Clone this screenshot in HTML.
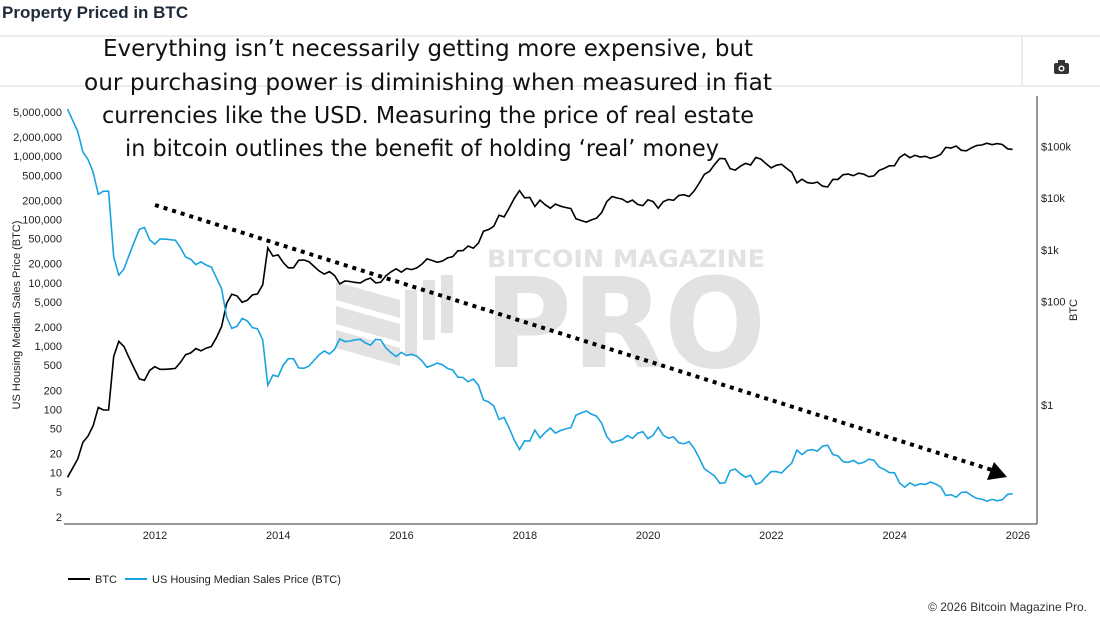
<!DOCTYPE html>
<html><head><meta charset="utf-8"><style>
body{margin:0;width:1100px;height:618px;background:#fff;overflow:hidden;font-family:"Liberation Sans",sans-serif;}
svg{position:absolute;left:0;top:0}
</style></head><body>
<svg width="1100" height="618" viewBox="0 0 1100 618" xmlns="http://www.w3.org/2000/svg">
<text x="2" y="18" font-size="17" font-weight="bold" fill="#1f2a3a">Property Priced in BTC</text>
<line x1="0" y1="36" x2="1100" y2="36" stroke="#e6e6e6" stroke-width="1.5"/>
<line x1="0" y1="86" x2="1100" y2="86" stroke="#e6e6e6" stroke-width="1.5"/>
<line x1="1022" y1="36" x2="1022" y2="86" stroke="#e6e6e6" stroke-width="1.5"/>
<g>
<rect x="1054" y="63" width="15" height="11" rx="2" fill="#333"/><rect x="1058" y="60" width="7" height="4" fill="#333"/><circle cx="1061.5" cy="68.5" r="3" fill="#fff"/><circle cx="1061.5" cy="68.5" r="1.6" fill="#333"/></g>
<g fill="#e2e2e2" font-family="DejaVu Sans, sans-serif" font-weight="bold">
<text x="487" y="267" font-size="24" textLength="278" lengthAdjust="spacingAndGlyphs">BITCOIN MAGAZINE</text>
<text x="484" y="367" font-size="125" textLength="282" lengthAdjust="spacingAndGlyphs">PRO</text>
<polygon points="336,282 400,300 400,318 336,300"/><polygon points="336,306 400,324 400,342 336,324"/><polygon points="336,330 400,348 400,366 336,348"/>
<rect x="405" y="290" width="12" height="66"/><rect x="423" y="280" width="12" height="60"/><rect x="441" y="275" width="12" height="58"/>
</g>
<g id="axes" font-size="11" fill="#222"></g>
<g id="series"></g>
<g>
<line x1="155" y1="205" x2="992" y2="470" stroke="#000" stroke-width="4" stroke-dasharray="4,5"/>
<polygon points="1007,477 987,480 994,462" fill="#000"/></g>
<g font-size="23.5" fill="#111" text-anchor="middle" font-family="DejaVu Sans, sans-serif">
<text x="428" y="56" textLength="650" lengthAdjust="spacingAndGlyphs">Everything isn’t necessarily getting more expensive, but</text>
<text x="428" y="90" textLength="688" lengthAdjust="spacingAndGlyphs">our purchasing power is diminishing when measured in fiat</text>
<text x="428" y="123" textLength="652" lengthAdjust="spacingAndGlyphs">currencies like the USD. Measuring the price of real estate</text>
<text x="422" y="156" textLength="594" lengthAdjust="spacingAndGlyphs">in bitcoin outlines the benefit of holding ‘real’ money</text>
</g>
<g font-size="11" fill="#222">
<line x1="68" y1="579" x2="90" y2="579" stroke="#000" stroke-width="2"/><text x="95" y="583">BTC</text>
<line x1="125" y1="579" x2="147" y2="579" stroke="#1aa3e0" stroke-width="2"/><text x="152" y="583">US Housing Median Sales Price (BTC)</text>
</g>
<text x="1087" y="611" font-size="12" fill="#333" text-anchor="end">© 2026 Bitcoin Magazine Pro.</text>
</svg>
<script>
const startYear=2010.58;
const btcPrice=[0.04,0.06,0.09,0.19,0.25,
0.4,0.9,0.8,0.8,8.7,17,13.5,8.2,5.1,3.2,3.0,4.7,
5.5,4.9,4.9,5.0,5.1,6.7,9.4,10.2,12.4,11.2,12.6,13.5,
20,33,93,139,129,97,106,135,141,211,1100,760,
800,570,450,450,630,640,590,480,390,340,380,320,
220,250,245,235,230,263,285,230,236,315,377,430,
370,437,416,448,530,670,625,575,609,700,740,960,
970,1190,1080,1350,2300,2480,2870,4700,4340,6450,10000,14000,
10200,10300,6900,9200,7500,6400,7700,7000,6600,6300,4000,3700,
3450,3800,4100,5300,8600,10800,10100,9600,8300,9200,7600,7200,
9300,8600,6400,8600,9500,9100,11300,11700,10800,13800,19700,29000,
33100,45200,58800,57700,37300,35000,41500,47100,43800,61300,57000,46300,
38500,43200,45500,37700,31800,19800,23300,20050,19400,20500,17100,16550,
23100,23150,28500,29250,27200,30500,29200,26000,27000,34500,37700,42300,
42600,61200,71300,60600,67500,62700,64600,59000,63300,70200,96400,93400,
102400,84400,82500,94200,104600,107100,115700,108200,114000,109500,90400,88000];
const housingYears=[2010,2011,2012,2013,2014,2015,2016,2017,2018,2019,2020,2021,2022,2023,2024,2025];
const housingUsd=[222000,224000,240000,265000,285000,295000,310000,325000,325000,320000,335000,400000,450000,425000,420000,410000];
const leftTicks=[5000000,2000000,1000000,500000,200000,100000,50000,20000,10000,5000,2000,1000,500,200,100,50,20,10,5,2];
const rightTicks=[100000,10000,1000,100,1];
const rightLabels=["$100k","$10k","$1k","$100","$1"];
const xTicks=[2012,2014,2016,2018,2020,2022,2024,2026];

const xS=t=>155+(t-2012)*61.64;
const yL=v=>536-63.3*Math.log10(v);
const yR=v=>405-51.7*Math.log10(v);
const NS="http://www.w3.org/2000/svg";
function mk(tag,attrs,parent){const e=document.createElementNS(NS,tag);for(const k in attrs)e.setAttribute(k,attrs[k]);parent.appendChild(e);return e;}
const ax=document.getElementById('axes');
const base=mk('line',{x1:64,y1:524,x2:1037,y2:524,stroke:'#333','stroke-width':1},ax);


const rl=mk('line',{x1:1037,y1:96,x2:1037,y2:524,stroke:'#333','stroke-width':1},ax);


leftTicks.forEach(v=>{const t=mk('text',{x:62,y:yL(v)+4,'text-anchor':'end'},ax);t.textContent=v.toLocaleString('en-US');

});
rightTicks.forEach((v,i)=>{const t=mk('text',{x:1041,y:yR(v)+4},ax);t.textContent=rightLabels[i];

});
xTicks.forEach(v=>{const t=mk('text',{x:xS(v),y:539,'text-anchor':'middle'},ax);t.textContent=v;

});
const yt=mk('text',{x:0,y:0,transform:'translate(20,315) rotate(-90)','text-anchor':'middle'},ax);yt.textContent='US Housing Median Sales Price (BTC)';


const rt=mk('text',{x:0,y:0,transform:'translate(1077,310) rotate(-90)','text-anchor':'middle'},ax);rt.textContent='BTC';



const sg=document.getElementById('series');
let pb=[],ph=[];
btcPrice.forEach((p,i)=>{const t=startYear+i/12;
const yi=Math.min(housingYears.length-1,Math.max(0,Math.floor(t)-housingYears[0]));
const h=housingUsd[yi]/p;
pb.push(xS(t).toFixed(1)+','+yR(p).toFixed(1));
ph.push(xS(t).toFixed(1)+','+yL(h).toFixed(1));});
const lb=mk('polyline',{points:pb.join(' '),fill:'none',stroke:'#000','stroke-width':1.6},sg);


const lh=mk('polyline',{points:ph.join(' '),fill:'none',stroke:'#1aa3e0','stroke-width':1.6},sg);


</script>
</body></html>
